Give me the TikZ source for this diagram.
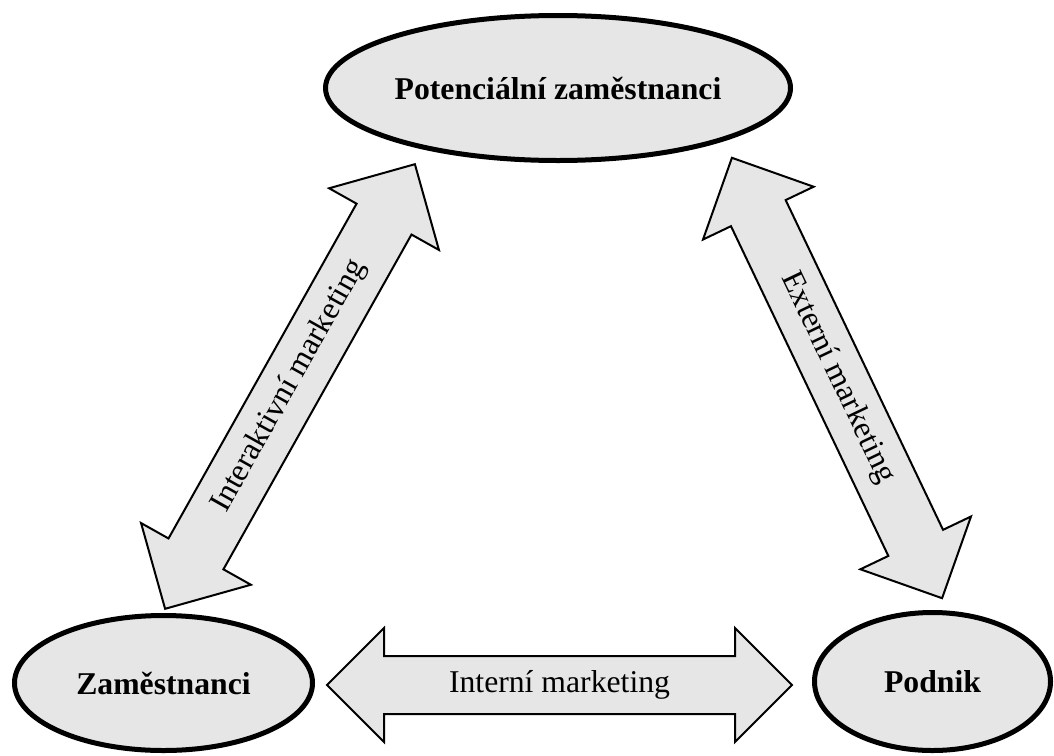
\documentclass[tikz,border=0pt]{standalone}
\usepackage{fontspec}
\setmainfont{Liberation Serif}
\usetikzlibrary{shapes.geometric,shapes.arrows}
\definecolor{boxgray}{RGB}{230,230,230}

\begin{document}
\begin{tikzpicture}[
  x=1pt, y=-1pt,
  group/.style={ellipse, draw, line width=5pt, fill=boxgray, inner sep=0pt, font=\fontsize{31.7}{38}\selectfont\bfseries},
  flow/.style 2 args={double arrow, draw, line width=2pt, fill=boxgray, sloped, double arrow tip angle=90, text height=22pt, text depth=8pt, inner xsep=0pt, inner ysep=#1, double arrow head extend=#2, font=\fontsize{31.7}{38}\selectfont},
]
\useasboundingbox (0,0) rectangle (1054,755);

\node[group, minimum width=465pt, minimum height=145pt] (pot) at (558,88) {Potenciální zaměstnanci};
\node[group, minimum width=298pt, minimum height=135pt] (zam) at (163.5,683) {Zaměstnanci};
\node[group, minimum width=236pt, minimum height=138pt] (podnik) at (932.5,681.5) {Podnik};

\coordinate (int1) at (327,685);
\coordinate (int2) at (792,685);
\coordinate (iak1) at (165,609);
\coordinate (iak2) at (415,164);
\coordinate (ext1) at (732,158);
\coordinate (ext2) at (942,598);

\path (int1) -- node[flow={13pt}{28pt}, minimum height=465pt] (intm) {Interní marketing} (int2);
\path (iak1) -- node[flow={15.5pt}{31.5pt}, minimum height=510pt] (iakm) {Interaktivní marketing} (iak2);
\path (ext1) -- node[flow={14.3pt}{31pt}, minimum height=488pt] (extm) {Externí marketing} (ext2);
\end{tikzpicture}
\end{document}
